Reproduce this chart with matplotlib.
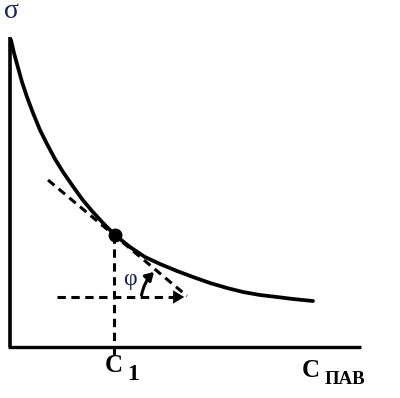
import matplotlib
matplotlib.use("Agg")
import matplotlib.pyplot as plt
from matplotlib.patches import FancyArrowPatch

plt.rcParams['lines.scale_dashes'] = False

# Surface tension curve sigma(C) (arbitrary units)
conc = [1, 4, 7, 12, 17, 23, 30, 37, 45, 53, 62, 72, 82, 93, 105, 120, 135,
        150, 167, 183, 200, 217, 233, 250, 267, 283, 303]
sigma = [307, 294, 283, 265, 250, 234, 217, 203, 188, 175, 162, 148, 136, 124,
         112, 100, 90, 83, 76, 70, 64, 59, 55, 52, 50, 48, 46]

# Chosen point C1 and its tangent
c1_x, c1_y = 105, 112
tangent_x = [38, 177]
tangent_y = [167, 51]
horiz_x = [47, 177]
horiz_y = 50

axis_x_end = 351
axis_y_end = 310

labels = {"sigma": "σ", "phi": "φ", "c1": "C", "c1_sub": "1", "cx": "C", "cx_sub": "ПАВ"}

fig = plt.figure(figsize=(4.0, 3.98), dpi=100)
ax = fig.add_axes([0, 0, 1, 1])
ax.set_xlim(-10, 390)
ax.set_ylim(-51, 347)
ax.axis('off')

# axes
ax.plot([0, 0], [0, axis_y_end], color='black', lw=2.6, solid_capstyle='butt')
ax.plot([-2, axis_x_end], [0, 0], color='black', lw=2.4, solid_capstyle='butt')

# curve
ax.plot(conc, sigma, color='black', lw=2.7, solid_capstyle='round',
        solid_joinstyle='round')

# tangent dashed line
ax.plot(tangent_x, tangent_y, color='black', lw=2.2, dashes=(6, 4))
# vertical dashed line at C1
ax.plot([c1_x - 1, c1_x - 1], [c1_y, -8], color='black', lw=2.2, dashes=(6, 4))
# horizontal dashed line with arrow
ax.plot([horiz_x[0], horiz_x[1] - 8], [horiz_y, horiz_y], color='black', lw=2.2, dashes=(6, 4))
ax.add_patch(FancyArrowPatch((horiz_x[1] - 12, horiz_y), (horiz_x[1], horiz_y),
                             arrowstyle='-|>,head_length=5,head_width=3',
                             mutation_scale=1.6, color='black', lw=0))

# point C1
ax.plot([c1_x], [c1_y], 'o', color='black', ms=9)

# angle arc
ax.add_patch(FancyArrowPatch((131, 49), (146, 77),
                             connectionstyle='arc3,rad=-0.18',
                             arrowstyle='-|>,head_length=3,head_width=1.8',
                             mutation_scale=1.6, color='black', lw=2.2))

navy = '#14205a'
ax.text(-6, 329, labels["sigma"], fontsize=20, family='Liberation Serif',
        color=navy, ha='left', va='baseline')
ax.text(120, 68, labels["phi"], fontsize=17, family='Liberation Serif',
        color=navy, ha='center', va='center')
ax.text(95, -25, labels["c1"], fontsize=18, family='Liberation Serif',
        weight='bold', ha='left', va='baseline')
ax.text(117, -33, labels["c1_sub"], fontsize=17, family='Liberation Serif',
        weight='bold', ha='left', va='baseline')
ax.text(292, -30, labels["cx"], fontsize=18, family='Liberation Serif',
        weight='bold', ha='left', va='baseline')
ax.text(315, -37, labels["cx_sub"], fontsize=13.5, family='Liberation Serif',
        weight='bold', ha='left', va='baseline')

fig.savefig('out.png', dpi=100)
